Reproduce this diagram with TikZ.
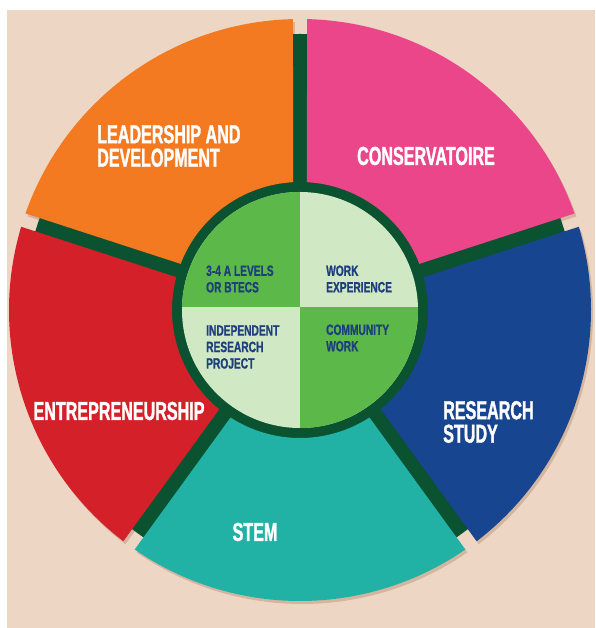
\documentclass[tikz,border=0pt]{standalone}
\usepackage{fontspec}
\newfontfamily\labelfont[FakeStretch=0.62, FakeBold=1.2]{Liberation Sans}
\newfontfamily\smallfont[FakeStretch=0.68, FakeBold=0.8]{Liberation Sans}

\definecolor{paper}{HTML}{EDD6C4}
\definecolor{shadowtone}{HTML}{C9A892}
\definecolor{wheelgreen}{HTML}{0A5230}
\definecolor{orangeseg}{HTML}{F37A21}
\definecolor{pinkseg}{HTML}{EC468A}
\definecolor{blueseg}{HTML}{17458F}
\definecolor{tealseg}{HTML}{22B2A5}
\definecolor{redseg}{HTML}{D32029}
\definecolor{midleaf}{HTML}{5CB848}
\definecolor{lightleaf}{HTML}{D0E8C3}
\definecolor{navytext}{HTML}{1E3F7E}

% one ring piece from angle #1 to #2 (gap of 14 between pieces)
\newcommand{\ringpiece}[2]{(#1+1.38:291) arc[start angle=#1+1.38, end angle=#2-1.38, radius=291]
  -- (#2-3.13:128) arc[start angle=#2-3.13, end angle=#1+3.13, radius=128] -- cycle}

\begin{document}
\begin{tikzpicture}[x=1pt, y=1pt,
    outerlabel/.style={text=white, align=left, inner sep=0,
      font=\labelfont\bfseries\fontsize{26}{23.5}\selectfont},
    innerlabel/.style={text=navytext, align=left, inner sep=0,
      font=\smallfont\bfseries\fontsize{15}{16.5}\selectfont}]

    % --- Canvas ---
    \useasboundingbox (-300,-318) rectangle (295,310);
    \fill[paper] (-293,-318) rectangle (295,300);
    \coordinate (Hub) at (0,0);

    % --- Shadows under the outer ring ---
    \foreach \a in {18,90,162,234,306} {
        \pgfmathsetmacro\b{\a+72}
        \fill[shadowtone, opacity=0.7, shift={(2,-3)}] \ringpiece{\a}{\b};
    }

    % --- Dark green backing disc ---
    \fill[wheelgreen] (Hub) circle (276);

    % --- Outer ring (five pieces) ---
    \foreach \a/\col in {18/pinkseg, 90/orangeseg, 162/redseg, 234/tealseg, 306/blueseg} {
        \pgfmathsetmacro\b{\a+72}
        \fill[\col] \ringpiece{\a}{\b};
    }

    % --- Inner circle (four quarters) ---
    \begin{scope}
        \clip (Hub) circle (118);
        \fill[lightleaf] (-120,-120) rectangle (120,120);
        \fill[midleaf] (-120,3) rectangle (0,120);
        \fill[midleaf] (0,3) rectangle (120,-120);
    \end{scope}

    % --- Outer labels ---
    \node[outerlabel, anchor=west] (leadership) at (-203,164) {LEADERSHIP AND\\DEVELOPMENT};
    \node[outerlabel] (conservatoire) at (126,154) {CONSERVATOIRE};
    \node[outerlabel, anchor=west] (research) at (143,-112) {RESEARCH\\STUDY};
    \node[outerlabel] (stem) at (-45,-222) {STEM};
    \node[outerlabel] (entrepreneurship) at (-181,-101) {ENTREPRENEURSHIP};

    % --- Inner labels ---
    \node[innerlabel, anchor=west] (alevels) at (-94,31) {3-4 A LEVELS\\OR BTECS};
    \node[innerlabel, anchor=west] (workexp) at (26,31) {WORK\\EXPERIENCE};
    \node[innerlabel, anchor=west] (project) at (-94,-37) {INDEPENDENT\\RESEARCH\\PROJECT};
    \node[innerlabel, anchor=west] (community) at (26,-28) {COMMUNITY\\WORK};

\end{tikzpicture}
\end{document}
